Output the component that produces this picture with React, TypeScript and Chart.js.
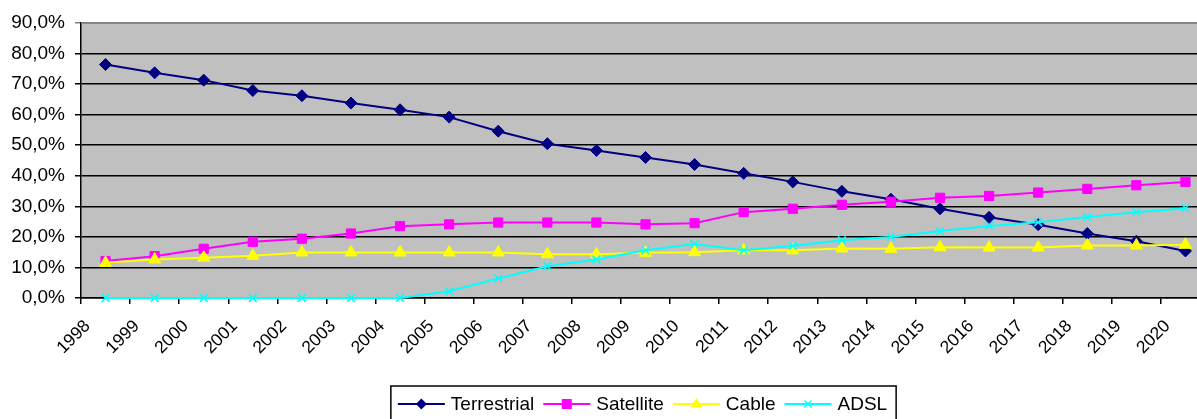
import React, { useEffect, useRef } from 'react';
import { Chart, registerables } from 'chart.js';

Chart.register(...registerables);

const years = ['1998', '1999', '2000', '2001', '2002', '2003', '2004', '2005', '2006', '2007', '2008', '2009', '2010', '2011', '2012', '2013', '2014', '2015', '2016', '2017', '2018', '2019', '2020'];
const terrestrial = [76.4, 73.7, 71.3, 67.9, 66.2, 63.8, 61.6, 59.2, 54.6, 50.5, 48.3, 46.0, 43.7, 40.8, 38.0, 34.9, 32.3, 29.2, 26.4, 24.0, 21.1, 18.6, 15.4];
const satellite = [12.1, 13.7, 16.1, 18.4, 19.4, 21.1, 23.5, 24.1, 24.7, 24.7, 24.7, 24.1, 24.5, 28.1, 29.2, 30.5, 31.5, 32.8, 33.4, 34.5, 35.7, 36.9, 38.0];
const cable = [11.5, 12.6, 13.2, 13.8, 14.9, 14.9, 14.9, 14.9, 14.9, 14.3, 14.3, 14.8, 15.0, 15.6, 15.6, 16.2, 16.1, 16.6, 16.5, 16.5, 17.2, 17.2, 17.4];
const adsl = [0, 0, 0, 0, 0, 0, 0, 2.2, 6.4, 10.4, 12.6, 15.6, 17.7, 15.6, 17.1, 18.9, 20.0, 21.9, 23.6, 24.8, 26.5, 28.1, 29.4];
const seriesNames = ['Terrestrial', 'Satellite', 'Cable', 'ADSL'];
const yMin = 0;
const yMax = 90;
const yStep = 10;

const W = 1287;
const H = 425;
const FONT = '"Liberation Sans", Arial, sans-serif';

const plotBg = {
  id: 'plotBg',
  beforeDraw(chart: any) {
    const { ctx, chartArea } = chart;
    ctx.save();
    ctx.fillStyle = '#C0C0C0';
    ctx.fillRect(chartArea.left, chartArea.top, chartArea.right - chartArea.left, chartArea.bottom - chartArea.top);
    ctx.restore();
  },
  beforeDatasetsDraw(chart: any) {
    const { ctx, chartArea } = chart;
    ctx.save();
    ctx.strokeStyle = '#808080';
    ctx.lineWidth = 1.5;
    ctx.beginPath();
    ctx.moveTo(chartArea.left, chartArea.top);
    ctx.lineTo(chartArea.right, chartArea.top);
    ctx.lineTo(chartArea.right, chartArea.bottom);
    ctx.stroke();
    ctx.restore();
  },
};

function drawMarker(ctx: CanvasRenderingContext2D, style: string, x: number, y: number, r: number, color: string) {
  ctx.save();
  ctx.fillStyle = color;
  ctx.strokeStyle = color;
  ctx.lineWidth = 1.5;
  ctx.beginPath();
  if (style === 'rectRot') {
    ctx.moveTo(x, y - r);
    ctx.lineTo(x + r, y);
    ctx.lineTo(x, y + r);
    ctx.lineTo(x - r, y);
    ctx.closePath();
    ctx.fill();
  } else if (style === 'rect') {
    ctx.rect(x - r, y - r, 2 * r, 2 * r);
    ctx.fill();
  } else if (style === 'triangle') {
    const s = Math.sin(Math.PI / 3) * r * 1.15;
    ctx.moveTo(x, y - r);
    ctx.lineTo(x + s, y + r * 0.6);
    ctx.lineTo(x - s, y + r * 0.6);
    ctx.closePath();
    ctx.fill();
  } else {
    ctx.moveTo(x - r, y - r);
    ctx.lineTo(x + r, y + r);
    ctx.moveTo(x + r, y - r);
    ctx.lineTo(x - r, y + r);
    ctx.stroke();
  }
  ctx.restore();
}

const boxLegend = {
  id: 'boxLegend',
  afterDraw(chart: any) {
    const { ctx, chartArea } = chart;
    ctx.save();
    ctx.font = `19px ${FONT}`;
    const lineLen = 47;
    const gapText = 6;
    const gapItem = 9;
    const padL = 7;
    const padR = 9;
    const ds = chart.data.datasets;
    const widths = ds.map((d: any) => ctx.measureText(d.label).width);
    let total = padL + padR + gapItem * (ds.length - 1);
    widths.forEach((w: number) => (total += lineLen + gapText + w));
    const cx = chart.width / 2;
    const left = cx - total / 2;
    const top = chartArea.bottom + 88;
    const h = 36;
    ctx.strokeStyle = '#000';
    ctx.lineWidth = 1.5;
    ctx.strokeRect(left, top, total, h);
    const my = top + 18;
    let x = left + padL;
    ds.forEach((d: any, i: number) => {
      ctx.strokeStyle = d.borderColor;
      ctx.lineWidth = 2;
      ctx.beginPath();
      ctx.moveTo(x, my);
      ctx.lineTo(x + lineLen, my);
      ctx.stroke();
      const ms: Record<string, number> = { rectRot: 5.5, rect: 5, triangle: 6, crossRot: 3.5 };
      drawMarker(ctx, d.pointStyle, x + lineLen / 2, my, ms[d.pointStyle], d.borderColor);
      x += lineLen + gapText;
      ctx.fillStyle = '#000';
      ctx.textAlign = 'left';
      ctx.textBaseline = 'middle';
      ctx.fillText(d.label, x, my + 1);
      x += widths[i] + gapItem;
    });
    ctx.restore();
  },
};

export default function App() {
  const ref = useRef<HTMLCanvasElement | null>(null);
  useEffect(() => {
    if (!ref.current) return;
    Chart.defaults.font.family = FONT;
    Chart.defaults.color = '#000';
    const mk = (label: string, data: number[], color: string, style: string, radius: number, order: number) => ({
      label,
      data,
      order,
      clip: false,
      borderColor: color,
      backgroundColor: color,
      pointBackgroundColor: color,
      pointBorderColor: color,
      borderWidth: 2,
      pointStyle: style,
      pointRadius: radius,
      pointBorderWidth: style === 'crossRot' ? 1.5 : 1,
      tension: 0,
      fill: false,
    });
    const chart = new Chart(ref.current, {
      type: 'line',
      data: {
        labels: years,
        datasets: [
          mk(seriesNames[0], terrestrial, '#000080', 'rectRot', 6, 3),
          mk(seriesNames[1], satellite, '#FF00FF', 'rect', 6.5, 2),
          mk(seriesNames[2], cable, '#FFFF00', 'triangle', 7, 1),
          mk(seriesNames[3], adsl, '#00FFFF', 'crossRot', 5.5, 0),
        ],
      } as any,
      options: {
        responsive: false,
        animation: false,
        events: [],
        layout: { padding: { left: 0, top: 23, right: W - 1210, bottom: 0 } },
        plugins: { legend: { display: false }, tooltip: { enabled: false } },
        scales: {
          x: {
            type: 'category',
            offset: true,
            grid: { offset: true, drawOnChartArea: false, drawTicks: true, tickLength: 6, color: '#000', lineWidth: 1.5 },
            border: { display: true, color: '#000', width: 1.5 },
            ticks: { autoSkip: false, minRotation: 45, maxRotation: 45, padding: 12, labelOffset: -18, color: '#000', font: { size: 17.5, family: FONT } },
            afterFit: (s: any) => {
              s.height = H - 298;
            },
          },
          y: {
            min: yMin,
            max: yMax,
            ticks: {
              stepSize: yStep,
              padding: 10,
              color: '#000',
              font: { size: 19, family: FONT },
              callback: (v: any) => `${Number(v).toFixed(1).replace('.', ',')}%`,
            },
            grid: {
              color: (c: any) => (c.tick && c.tick.value === yMax ? '#808080' : '#000'),
              lineWidth: 1.5,
              tickLength: 6,
              drawTicks: true,
            },
            border: { display: true, color: '#000', width: 1.5 },
            afterFit: (s: any) => {
              s.width = 81;
            },
          },
        },
      } as any,
      plugins: [plotBg, boxLegend],
    });
    return () => chart.destroy();
  }, []);
  return (
    <div style={{ position: 'absolute', left: 0, top: 0, width: 1197, height: 419, overflow: 'hidden', background: '#fff' }}>
      <canvas ref={ref} width={W} height={H} style={{ display: 'block', width: W, height: H }} />
    </div>
  );
}
